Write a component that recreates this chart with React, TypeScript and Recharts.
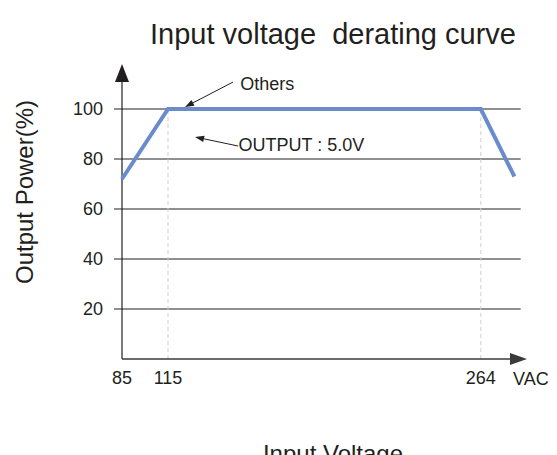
import { Line, LineChart, ReferenceDot, ReferenceLine, XAxis, YAxis } from "recharts";

const voltage = [85, 115, 264, 280];
const power = [72, 100, 100, 73];
const xTicks = [85, 115, 264];
const yTicks = [20, 40, 60, 80, 100];
const gridEnd = 283;

const data = voltage.map((v, i) => ({ v, p: power[i] }));

const FONT = "'Liberation Sans', Arial, sans-serif";
const INK = "#231f20";
const BLUE = "#6b8ccc";

// piecewise linear scale: the 85-115 stretch is drawn narrower than the rest
function kneeScale(knot: number, frac: number) {
  let dom = [0, 1];
  let rng = [0, 1];
  const s: any = (v: number) => {
    const [d0, d1] = dom;
    const [r0, r1] = rng;
    const w = r1 - r0;
    if (v <= knot) return r0 + ((v - d0) / (knot - d0)) * frac * w;
    return r0 + frac * w + ((v - knot) / (d1 - knot)) * (1 - frac) * w;
  };
  s.domain = (d?: number[]) => {
    if (d === undefined) return dom.slice();
    dom = d.map(Number);
    return s;
  };
  s.range = (r?: number[]) => {
    if (r === undefined) return rng.slice();
    rng = r.map(Number);
    return s;
  };
  s.invert = (px: number) => {
    const [d0, d1] = dom;
    const [r0, r1] = rng;
    const w = r1 - r0;
    const k = r0 + frac * w;
    if (px <= k) return d0 + ((px - r0) / (frac * w)) * (knot - d0);
    return knot + ((px - k) / ((1 - frac) * w)) * (d1 - knot);
  };
  s.ticks = () => xTicks;
  s.copy = () => kneeScale(knot, frac).domain(dom).range(rng);
  return s;
}

const xScale = kneeScale(115, 46 / 405);

function arrow(len: number, half: number, width: number, color: string) {
  return (props: any) => {
    const { x1, y1, x2, y2 } = props;
    const a = Math.atan2(y2 - y1, x2 - x1);
    const bx = x2 - len * Math.cos(a);
    const by = y2 - len * Math.sin(a);
    const nx = -Math.sin(a) * half;
    const ny = Math.cos(a) * half;
    return (
      <g>
        <line x1={x1} y1={y1} x2={bx} y2={by} stroke={color} strokeWidth={width} />
        <polygon
          points={`${x2},${y2} ${bx + nx},${by + ny} ${bx - nx},${by - ny}`}
          fill={color}
        />
      </g>
    );
  };
}

export default function App() {
  return (
    <div style={{ position: "absolute", left: 0, top: 0, width: 557, height: 455, background: "#fff" }}>
      <LineChart
        width={557}
        height={455}
        data={data}
        margin={{ top: 59, right: 30, bottom: 56, left: 0 }}
      >
        <XAxis
          dataKey="v"
          type="number"
          domain={[85, 286]}
          scale={xScale}
          ticks={xTicks}
          axisLine={false}
          tickLine={false}
          tickSize={0}
          tickMargin={12}
          height={40}
          interval={0}
          tick={{ fontFamily: FONT, fontSize: 18, fill: INK }}
          label={{ value: "VAC", position: "right", offset: -14, fontFamily: FONT, fontSize: 18, fill: INK }}
        />
        <YAxis
          type="number"
          domain={[0, 120]}
          ticks={yTicks}
          width={122}
          axisLine={false}
          tickSize={8}
          tickMargin={11}
          tickLine={{ stroke: INK, strokeWidth: 1 }}
          tick={{ fontFamily: FONT, fontSize: 18, fill: INK }}
        />
        {yTicks.map((t) => (
          <ReferenceLine
            key={t}
            segment={[{ x: 85, y: t }, { x: gridEnd, y: t }]}
            stroke={INK}
            strokeWidth={1}
            ifOverflow="visible"
          />
        ))}
        {[115, 264].map((t) => (
          <ReferenceLine
            key={"v" + t}
            segment={[{ x: t, y: 0 }, { x: t, y: 100 }]}
            stroke="#cfcfcf"
            strokeDasharray="4 3"
            ifOverflow="visible"
          />
        ))}
        <ReferenceLine
          segment={[{ x: 85, y: 0 }, { x: 85, y: 118 }]}
          ifOverflow="visible"
          shape={arrow(18, 7, 1.2, INK)}
        />
        <ReferenceLine
          segment={[{ x: 85, y: 0 }, { x: 286, y: 0 }]}
          ifOverflow="visible"
          shape={arrow(17, 6, 1.6, "#3a3a3a")}
        />
        <Line
          type="linear"
          dataKey="p"
          stroke={BLUE}
          strokeWidth={4}
          dot={false}
          activeDot={false}
          isAnimationActive={false}
        />
        <ReferenceLine
          segment={[{ x: 146, y: 110.8 }, { x: 123.1, y: 100.8 }]}
          ifOverflow="visible"
          shape={arrow(9, 3.2, 1, INK)}
        />
        <ReferenceLine
          segment={[{ x: 148.4, y: 85.2 }, { x: 127.9, y: 88.8 }]}
          ifOverflow="visible"
          shape={arrow(9, 3.2, 1, INK)}
        />
        <ReferenceDot
          x={149.4}
          y={110}
          r={0}
          ifOverflow="visible"
          label={{ value: "Others", position: "right", offset: 0, fontFamily: FONT, fontSize: 18, fill: INK }}
        />
        <ReferenceDot
          x={148.6}
          y={85.8}
          r={0}
          ifOverflow="visible"
          label={{ value: "OUTPUT : 5.0V", position: "right", offset: 0, fontFamily: FONT, fontSize: 18, fill: INK }}
        />
      </LineChart>
      <svg
        width={557}
        height={455}
        style={{ position: "absolute", left: 0, top: 0, pointerEvents: "none" }}
      >
        <text
          x={333}
          y={44}
          textAnchor="middle"
          fontFamily={FONT}
          fontSize={29}
          fill={INK}
          style={{ whiteSpace: "pre" }}
        >
          {"Input voltage  derating curve"}
        </text>
        <text
          x={33}
          y={192}
          textAnchor="middle"
          transform="rotate(-90 33 192)"
          fontFamily={FONT}
          fontSize={24}
          fill={INK}
        >
          Output Power(%)
        </text>
        <text x={333} y={462} textAnchor="middle" fontFamily={FONT} fontSize={24} fill={INK}>
          Input Voltage
        </text>
      </svg>
    </div>
  );
}
